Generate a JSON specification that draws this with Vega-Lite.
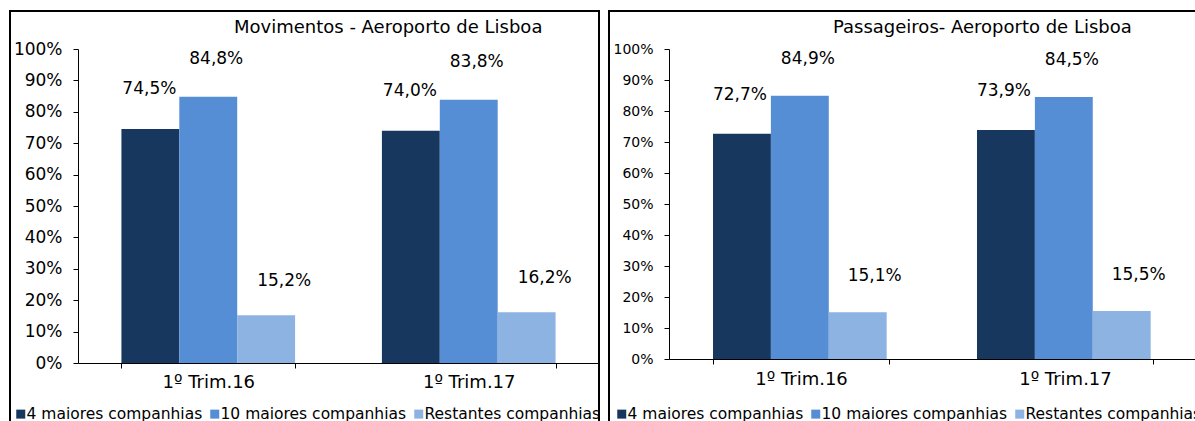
{
  "$schema": "https://vega.github.io/schema/vega-lite/v6.json",
  "padding": {"left": 9, "top": 10, "right": 0, "bottom": 0},
  "autosize": {"type": "pad"},
  "spacing": 10,
  "bounds": "flush",
  "config": {
    "locale": {"number": {"decimal": ",", "thousands": ".", "grouping": [3], "currency": ["", " €"]}},
    "view": {"stroke": "#000000", "strokeWidth": 2},
    "font": "DejaVu Sans",
    "axis": {"domainColor": "#000000", "tickColor": "#000000", "labelColor": "#000000", "labelFont": "DejaVu Sans", "labelFontSize": 17, "grid": false, "title": null, "tickSize": 5},
    "legend": {"labelFont": "DejaVu Sans", "labelFontSize": 15.5, "labelColor": "#000000", "labelLimit": 400},
    "title": {"font": "DejaVu Sans", "fontSize": 18, "fontWeight": "normal", "color": "#000000"}
  },
  "datasets": {
    "d": [
      {"panel": "M", "period": "1º Trim.16", "series": "4 maiores companhias", "value": 0.745},
      {"panel": "M", "period": "1º Trim.16", "series": "10 maiores companhias", "value": 0.848},
      {"panel": "M", "period": "1º Trim.16", "series": "Restantes companhias", "value": 0.152},
      {"panel": "M", "period": "1º Trim.17", "series": "4 maiores companhias", "value": 0.740},
      {"panel": "M", "period": "1º Trim.17", "series": "10 maiores companhias", "value": 0.838},
      {"panel": "M", "period": "1º Trim.17", "series": "Restantes companhias", "value": 0.162},
      {"panel": "P", "period": "1º Trim.16", "series": "4 maiores companhias", "value": 0.727},
      {"panel": "P", "period": "1º Trim.16", "series": "10 maiores companhias", "value": 0.849},
      {"panel": "P", "period": "1º Trim.16", "series": "Restantes companhias", "value": 0.151},
      {"panel": "P", "period": "1º Trim.17", "series": "4 maiores companhias", "value": 0.739},
      {"panel": "P", "period": "1º Trim.17", "series": "10 maiores companhias", "value": 0.845},
      {"panel": "P", "period": "1º Trim.17", "series": "Restantes companhias", "value": 0.155}
    ]
  },
  "resolve": {"scale": {"x": "independent", "y": "independent", "color": "independent"}, "legend": {"color": "independent"}},
  "hconcat": [
    {
      "width": 589,
      "height": 420,
      "data": {"name": "d"},
      "transform": [{"filter": "datum.panel == 'M'"}],
      "title": {"text": "Movimentos - Aeroporto de Lisboa", "anchor": "start", "frame": "group", "offset": 0, "baseline": "top", "dx": 224, "dy": 26},
      "encoding": {
        "x": {"field": "period", "type": "nominal", "scale": {"range": [68, 589], "paddingInner": 0.3333, "paddingOuter": 0.1667}, "axis": {"offset": -68, "labelAngle": 0, "tickBand": "extent", "labelPadding": 5, "labelFontSize": 18}},
        "xOffset": {"field": "series", "type": "nominal", "sort": ["4 maiores companhias", "10 maiores companhias", "Restantes companhias"]},
        "y": {"field": "value", "type": "quantitative", "scale": {"domain": [0, 1], "range": [352, 38], "nice": false}, "axis": {"offset": -68, "format": ".0%", "values": [0, 0.1, 0.2, 0.3, 0.4, 0.5, 0.6, 0.7, 0.8, 0.9, 1], "labelPadding": 11}}
      },
      "layer": [
        {
          "mark": {"type": "bar"},
          "encoding": {
            "color": {"field": "series", "type": "nominal", "sort": ["4 maiores companhias", "10 maiores companhias", "Restantes companhias"], "scale": {"domain": ["4 maiores companhias", "10 maiores companhias", "Restantes companhias"], "range": ["#17375e", "#558ed5", "#8db3e2"]}, "legend": {"orient": "none", "legendX": 3, "legendY": 395, "direction": "horizontal", "title": null, "symbolType": "square", "symbolSize": 81, "symbolOpacity": 1, "symbolStrokeWidth": 0, "labelOffset": -2, "columnPadding": 4}}
          }
        },
        {
          "transform": [{"filter": "datum.series == '4 maiores companhias'"}],
          "mark": {"type": "text", "baseline": "middle", "fontSize": 17, "dx": -1, "dy": -40, "color": "#000000"},
          "encoding": {"text": {"field": "value", "type": "quantitative", "format": ".1%"}}
        },
        {
          "transform": [{"filter": "datum.series == '10 maiores companhias'"}],
          "mark": {"type": "text", "baseline": "middle", "fontSize": 17, "dx": 8, "dy": -38, "color": "#000000"},
          "encoding": {"text": {"field": "value", "type": "quantitative", "format": ".1%"}}
        },
        {
          "transform": [{"filter": "datum.series == 'Restantes companhias'"}],
          "mark": {"type": "text", "baseline": "middle", "fontSize": 17, "dx": 18, "dy": -34, "color": "#000000"},
          "encoding": {"text": {"field": "value", "type": "quantitative", "format": ".1%"}}
        }
      ]
    },
    {
      "width": 600,
      "height": 420,
      "data": {"name": "d"},
      "transform": [{"filter": "datum.panel == 'P'"}],
      "title": {"text": "Passageiros- Aeroporto de Lisboa", "anchor": "start", "frame": "group", "offset": 0, "baseline": "top", "dx": 224, "dy": 26},
      "encoding": {
        "x": {"field": "period", "type": "nominal", "scale": {"range": [60, 588], "paddingInner": 0.3333, "paddingOuter": 0.1667}, "axis": {"offset": -72, "labelAngle": 0, "tickBand": "extent", "labelPadding": 6, "labelFontSize": 18}},
        "xOffset": {"field": "series", "type": "nominal", "sort": ["4 maiores companhias", "10 maiores companhias", "Restantes companhias"]},
        "y": {"field": "value", "type": "quantitative", "scale": {"domain": [0, 1], "range": [348, 38], "nice": false}, "axis": {"offset": -60, "format": ".0%", "values": [0, 0.1, 0.2, 0.3, 0.4, 0.5, 0.6, 0.7, 0.8, 0.9, 1], "labelPadding": 11, "labelFontSize": 14}}
      },
      "layer": [
        {
          "mark": {"type": "bar"},
          "encoding": {
            "color": {"field": "series", "type": "nominal", "sort": ["4 maiores companhias", "10 maiores companhias", "Restantes companhias"], "scale": {"domain": ["4 maiores companhias", "10 maiores companhias", "Restantes companhias"], "range": ["#17375e", "#558ed5", "#8db3e2"]}, "legend": {"orient": "none", "legendX": 5, "legendY": 395, "direction": "horizontal", "title": null, "symbolType": "square", "symbolSize": 81, "symbolOpacity": 1, "symbolStrokeWidth": 0, "labelOffset": -2, "columnPadding": 4}}
          }
        },
        {
          "transform": [{"filter": "datum.series == '4 maiores companhias'"}],
          "mark": {"type": "text", "baseline": "middle", "fontSize": 17, "dx": -2, "dy": -39, "color": "#000000"},
          "encoding": {"text": {"field": "value", "type": "quantitative", "format": ".1%"}}
        },
        {
          "transform": [{"filter": "datum.series == '10 maiores companhias'"}],
          "mark": {"type": "text", "baseline": "middle", "fontSize": 17, "dx": 8, "dy": -37, "color": "#000000"},
          "encoding": {"text": {"field": "value", "type": "quantitative", "format": ".1%"}}
        },
        {
          "transform": [{"filter": "datum.series == 'Restantes companhias'"}],
          "mark": {"type": "text", "baseline": "middle", "fontSize": 17, "dx": 17, "dy": -36, "color": "#000000"},
          "encoding": {"text": {"field": "value", "type": "quantitative", "format": ".1%"}}
        }
      ]
    }
  ]
}
